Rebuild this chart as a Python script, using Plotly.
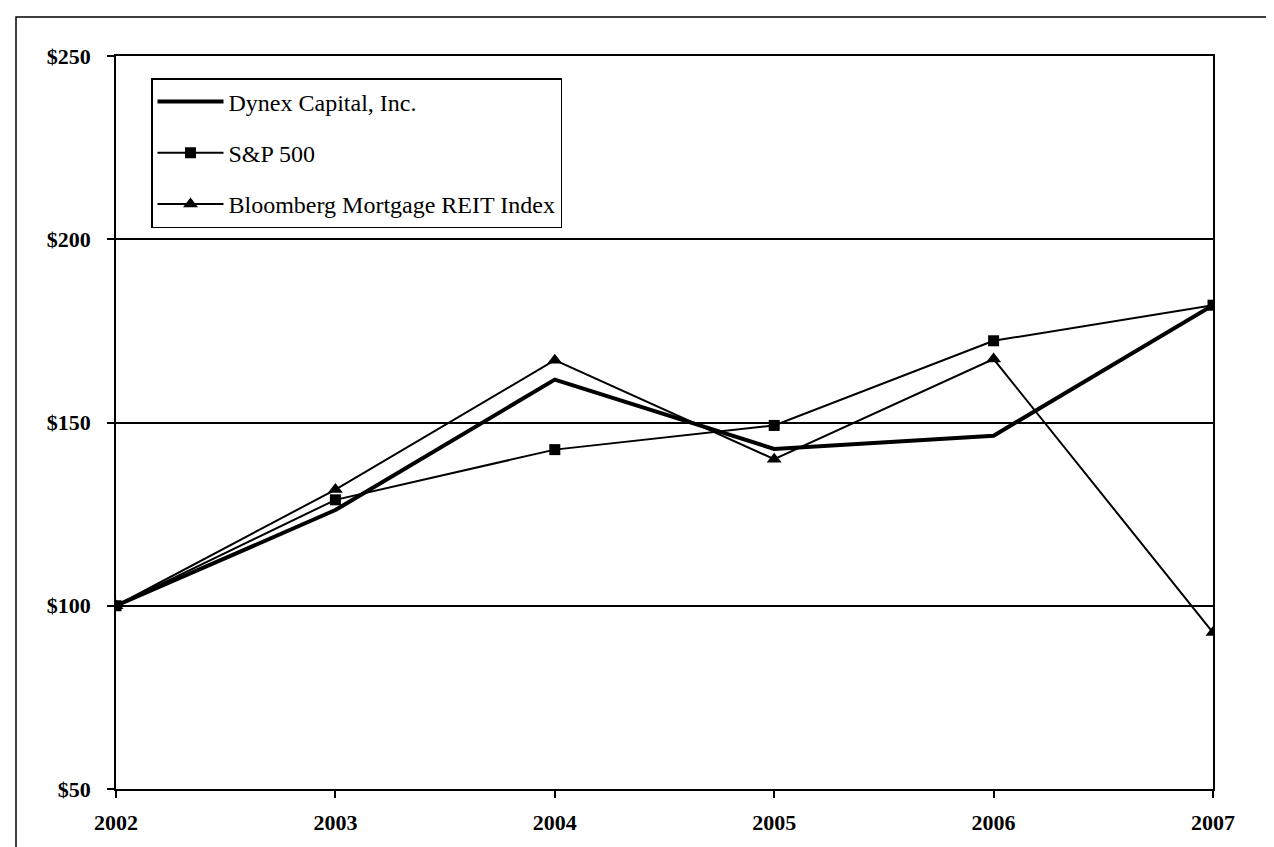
import plotly.graph_objects as go

years = [2002, 2003, 2004, 2005, 2006, 2007]
dynex = [100, 126.1, 161.7, 142.8, 146.4, 182.0]
sp500 = [100, 128.9, 142.6, 149.2, 172.3, 182.0]
bloomberg = [100, 131.7, 167.0, 140.0, 167.3, 92.7]
series_names = ["Dynex Capital, Inc.", "S&P 500", "Bloomberg Mortgage REIT Index"]
y_ticks = [50, 100, 150, 200, 250]

W, H = 1274, 847
L, R, T, B = 108, 69, 48, 66

fig = go.Figure()
fig.add_trace(go.Scatter(x=years, y=dynex, name=series_names[0], mode="lines",
                         line=dict(color="black", width=4), legendgroup="a"))
fig.add_trace(go.Scatter(x=years, y=sp500, name=series_names[1], mode="lines+markers",
                         line=dict(color="black", width=2),
                         marker=dict(symbol="square", size=11, color="black"), legendgroup="b"))
fig.add_trace(go.Scatter(x=years, y=bloomberg, name=series_names[2], mode="lines+markers",
                         line=dict(color="black", width=2),
                         marker=dict(symbol="triangle-up", size=13, color="black"), legendgroup="c"))

pw = W - L - R
ph = H - T - B
# outer frame of the picture
fig.add_shape(type="rect", xref="paper", yref="paper",
              x0=(8 - L) / pw, x1=(W + 20 - L) / pw,
              y0=-(H + 20 - T - ph) / ph, y1=(H - B - 9) / ph,
              line=dict(color="black", width=1.5), fillcolor="rgba(0,0,0,0)", layer="below")

tick_font = dict(family="Liberation Serif, Times New Roman, serif", size=22, color="black", weight="bold")

fig.update_layout(
    width=W, height=H,
    margin=dict(l=L, r=R, t=T, b=B),
    paper_bgcolor="white", plot_bgcolor="white",
    showlegend=True,
    legend=dict(x=(143 - L) / pw, y=(H - B - 70) / ph, xanchor="left", yanchor="top",
                bgcolor="white", bordercolor="black", borderwidth=1.5,
                font=dict(family="Liberation Serif, Times New Roman, serif", size=24, color="black"),
                tracegroupgap=17, itemwidth=66,
                traceorder="grouped"),
    xaxis=dict(range=[2002, 2007], tickvals=years, ticktext=[str(y) for y in years],
               showgrid=False, zeroline=False, showline=True, linecolor="black", linewidth=1.5,
               mirror=True, ticks="outside", ticklen=7, tickcolor="black", tickwidth=1.5,
               tickfont=tick_font, ticklabelstandoff=6),
    yaxis=dict(range=[50, 250], tickvals=y_ticks, ticktext=["$" + str(v) for v in y_ticks],
               showgrid=True, gridcolor="black", gridwidth=1.5, zeroline=False,
               showline=True, linecolor="black", linewidth=1.5, mirror=True,
               ticks="outside", ticklen=7, tickcolor="black", tickwidth=1.5,
               tickfont=tick_font, ticklabelstandoff=12),
)

fig.write_html("out.html")
